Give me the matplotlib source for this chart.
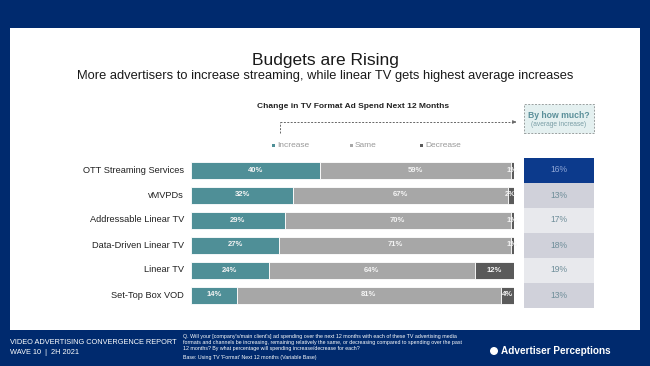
import matplotlib
matplotlib.use("Agg")
import matplotlib.pyplot as plt
from matplotlib.patches import Rectangle, FancyArrowPatch, Ellipse
import numpy as np

plt.rcParams['font.family'] = ['Liberation Sans', 'DejaVu Sans']

categories = ["OTT Streaming Services", "vMVPDs", "Addressable Linear TV",
              "Data-Driven Linear TV", "Linear TV", "Set-Top Box VOD"]
increase = [40, 32, 29, 27, 24, 14]
same = [59, 67, 70, 71, 64, 81]
decrease = [1, 2, 1, 1, 12, 4]
avg_increase = [16, 13, 17, 18, 19, 13]
series_names = ["Increase", "Same", "Decrease"]

W, H = 650, 366
NAVY = "#002a6e"
TEAL = "#4f8f97"
GRAY = "#a7a7a7"
DARK = "#5a5a5a"

fig = plt.figure(figsize=(W / 100, H / 100), dpi=100)
fig.patch.set_facecolor(NAVY)

def fx(px):
    return px / W

def fy(py):
    return 1 - py / H

# white panel (drawn beneath the axes)
panel = Rectangle((fx(10), fy(330)), fx(640) - fx(10), fy(28) - fy(330),
                  transform=fig.transFigure, facecolor="white", edgecolor="none", zorder=-5)
fig.add_artist(panel)

# titles
fig.text(fx(325), fy(60), "Budgets are Rising", ha="center", va="center", fontsize=12.5, color="#1a1a1a")
fig.text(fx(325), fy(76), "More advertisers to increase streaming, while linear TV gets highest average increases",
         ha="center", va="center", fontsize=9.3, color="#1a1a1a")
fig.text(fx(353), fy(106), "Change in TV Format Ad Spend Next 12 Months", ha="center", va="center",
         fontsize=6, fontweight="bold", color="#222222")

# main bars axes
top, bot = 157.5, 307.5
ax = fig.add_axes([fx(191), fy(bot), fx(514) - fx(191), (bot - top) / H])
ax.set_xlim(0, 100)
ax.set_ylim(len(categories) - 0.5, -0.5)
ax.axis("off")

y = np.arange(len(categories))
inc = np.array(increase, float)
sam = np.array(same, float)
dec = np.array(decrease, float)
tot = inc + sam + dec
inc_n, sam_n, dec_n = inc / tot * 100, sam / tot * 100, dec / tot * 100

bh = 0.68
segs = [(inc, inc_n, np.zeros_like(inc_n), TEAL),
        (sam, sam_n, inc_n, GRAY),
        (dec, dec_n, inc_n + sam_n, DARK)]
for vals, widths, lefts, col in segs:
    bars = ax.barh(y, widths, left=lefts, height=bh, color=col, edgecolor="white", linewidth=0.6)
    for b, v, w, l, yy in zip(bars, vals, widths, lefts, y):
        t = ax.text(l + w / 2, yy, f"{int(v)}%", ha="center", va="center",
                    fontsize=5.5, color="#f4f4f4", fontweight="semibold")
        t.set_clip_path(b)

for yy, c in zip(y, categories):
    fig.text(fx(184), fy(top + (yy + 0.5) * 25), c, ha="right", va="center", fontsize=6.7, color="#222222")

# legend
leg_x = [272, 350, 420]
for lx, name, col in zip(leg_x, series_names, [TEAL, GRAY, DARK]):
    fig.add_artist(Rectangle((fx(lx), fy(147)), fx(3), 3 / H, transform=fig.transFigure,
                             facecolor=col, edgecolor="none"))
    fig.text(fx(lx + 5), fy(145.5), name, ha="left", va="center", fontsize=6, color="#999999")

# dashed connector
fig.add_artist(plt.Line2D([fx(280), fx(280)], [fy(133), fy(122)], transform=fig.transFigure,
                          color="#666666", lw=0.7, ls=(0, (2, 1.5))))
fig.add_artist(plt.Line2D([fx(280), fx(515)], [fy(122), fy(122)], transform=fig.transFigure,
                          color="#666666", lw=0.7, ls=(0, (2, 1.5))))
fig.add_artist(FancyArrowPatch((fx(512), fy(122)), (fx(519), fy(122)), transform=fig.transFigure,
                               arrowstyle="-|>", mutation_scale=5, color="#666666", lw=0.6))

# "By how much?" box
fig.add_artist(Rectangle((fx(524), fy(133)), fx(594) - fx(524), 29 / H, transform=fig.transFigure,
                         facecolor="#e4f0f0", edgecolor="#9aa0a0", lw=0.7, ls=(0, (2, 1.5))))
fig.text(fx(559), fy(115), "By how much?", ha="center", va="center", fontsize=6.2,
         fontweight="bold", color="#5a8f99")
fig.text(fx(559), fy(124.5), "(average increase)", ha="center", va="center", fontsize=4.8, color="#7a9ea6")

# average increase column
ax2 = fig.add_axes([fx(524), fy(bot), fx(594) - fx(524), (bot - top) / H])
ax2.set_xlim(0, 1)
ax2.set_ylim(len(categories) - 0.5, -0.5)
ax2.axis("off")
row_cols = ["#0c3a8c", "#d0d1da", "#e8e9ed", "#d0d1da", "#e8e9ed", "#d0d1da"]
txt_cols = ["#8fa6d6", "#6f8e9a", "#6f8e9a", "#6f8e9a", "#6f8e9a", "#6f8e9a"]
ax2.barh(y, [1] * len(y), height=1.0, color=row_cols, edgecolor="none")
for yy, v, tc in zip(y, avg_increase, txt_cols):
    ax2.text(0.5, yy, f"{v}%", ha="center", va="center", fontsize=6.2, color=tc)

# footer
fig.text(fx(10), fy(343), "VIDEO ADVERTISING CONVERGENCE REPORT", ha="left", va="center",
         fontsize=5.3, color="white")
fig.text(fx(10), fy(353), "WAVE 10  |  2H 2021", ha="left", va="center", fontsize=5.3, color="white")
q = ("Q. Will your [company's/main client's] ad spending over the next 12 months with each of these TV advertising media\n"
     "formats and channels be increasing, remaining relatively the same, or decreasing compared to spending over the past\n"
     "12 months? By what percentage will spending increase/decrease for each?")
fig.text(fx(183), fy(334), q, ha="left", va="top", fontsize=3.8, color="white", linespacing=1.25)
fig.text(fx(183), fy(357.5), "Base: Using TV 'Format' Next 12 months (Variable Base)", ha="left", va="center",
         fontsize=3.8, color="white")
fig.text(fx(501), fy(351), "Advertiser Perceptions", ha="left", va="center", fontsize=7.2,
         fontweight="bold", color="white")
fig.add_artist(Ellipse((fx(494), fy(351)), 8 / W, 8 / H, transform=fig.transFigure,
                       facecolor="white", edgecolor="none"))

fig.savefig("out.png", dpi=100, facecolor=NAVY)
